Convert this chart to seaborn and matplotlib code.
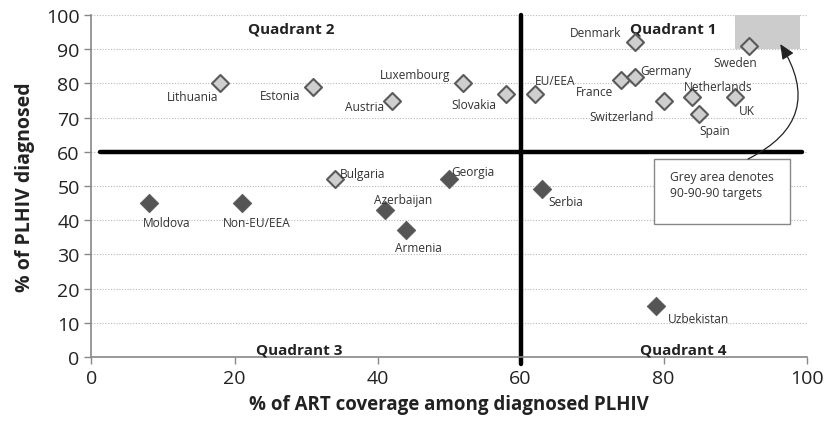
import matplotlib.pyplot as plt
import pandas as pd
import seaborn as sns
from matplotlib.patches import Rectangle, FancyArrowPatch

# Data
eu_names = ["Lithuania", "Estonia", "Austria", "Luxembourg", "Slovakia", "EU/EEA",
            "Denmark", "France", "Germany", "Switzerland", "Netherlands", "Spain",
            "UK", "Sweden", "Bulgaria"]
eu_art = [18, 31, 42, 52, 58, 62, 76, 74, 76, 80, 84, 85, 90, 92, 34]
eu_diag = [80, 79, 75, 80, 77, 77, 92, 81, 82, 75, 76, 71, 76, 91, 52]

non_names = ["Moldova", "Non-EU/EEA", "Azerbaijan", "Armenia", "Georgia", "Serbia",
             "Uzbekistan"]
non_art = [8, 21, 41, 44, 50, 63, 79]
non_diag = [45, 45, 43, 37, 52, 49, 15]

# label placement: (dx, dy) in pixels, horizontal alignment
label_pos = {
    "Lithuania": (-2, -13, "right"), "Estonia": (-13, -9, "right"),
    "Austria": (-8, -6, "right"), "Luxembourg": (-13, 9, "right"),
    "Slovakia": (-10, -11, "right"), "EU/EEA": (0, 13, "left"),
    "Denmark": (-14, 10, "right"), "France": (-8, -12, "right"),
    "Germany": (5, 6, "left"), "Switzerland": (-10, -16, "right"),
    "Netherlands": (-8, 11, "left"), "Spain": (0, -16, "left"),
    "UK": (4, -13, "left"), "Sweden": (-14, -17, "center"),
    "Bulgaria": (5, 6, "left"), "Moldova": (-6, -19, "left"),
    "Non-EU/EEA": (15, -19, "center"), "Azerbaijan": (-11, 10, "left"),
    "Armenia": (12, -17, "center"), "Georgia": (2, 8, "left"),
    "Serbia": (6, -12, "left"), "Uzbekistan": (11, -13, "left"),
}

df = pd.DataFrame({
    "name": eu_names + non_names,
    "art": eu_art + non_art,
    "diag": eu_diag + non_diag,
    "group": ["EU"] * len(eu_names) + ["Non-EU"] * len(non_names),
})

sns.set_style("white")
plt.rcParams["font.family"] = ["Open Sans", "DejaVu Sans"]

fig, ax = plt.subplots(figsize=(8.24, 4.27), dpi=100)
fig.subplots_adjust(left=0.111, right=0.979, top=0.9625, bottom=0.1616)

# 90-90-90 target area
ax.add_patch(Rectangle((90, 90), 9, 10, facecolor="#cccccc", edgecolor="none", zorder=1))

# Dotted horizontal gridlines
for yv in range(10, 101, 10):
    ax.axhline(yv, color="#b8b8b8", linestyle=(0, (1, 1.5)), linewidth=0.8, zorder=0)

# Quadrant dividers
ax.plot([1.2, 99.4], [60, 60], color="black", linewidth=3.2, zorder=2, clip_on=False)
ax.plot([60, 60], [-2, 100], color="black", linewidth=3.2, zorder=2, clip_on=False)

sns.scatterplot(data=df[df.group == "EU"], x="art", y="diag", marker="D", s=75,
                color="#cfcfcf", edgecolor="#5a5a5a", linewidth=1.5, zorder=4, ax=ax)
sns.scatterplot(data=df[df.group == "Non-EU"], x="art", y="diag", marker="D", s=90,
                color="#555555", edgecolor="#555555", linewidth=0.5, zorder=4, ax=ax)

for name, x, y in zip(df.name, df.art, df.diag):
    dx, dy, ha = label_pos[name]
    ax.annotate(name, (x, y), xytext=(dx * 0.72, dy * 0.72), textcoords="offset points",
                ha=ha, va="center", fontsize=8.6, color="#333333", zorder=5)

# Quadrant titles
qkw = dict(fontsize=11, fontweight="bold", color="#222222", ha="center", va="center")
ax.text(28, 96, "Quadrant 2", **qkw)
ax.text(81.4, 96, "Quadrant 1", **qkw)
ax.text(29, 2.2, "Quadrant 3", **qkw)
ax.text(82.8, 2.2, "Quadrant 4", **qkw)

# Note box with curved arrow
ax.add_patch(Rectangle((78.6, 38.9), 19.1, 19.0, facecolor="white", edgecolor="#888888",
                       linewidth=1, zorder=3))
ax.text(80.9, 50.5, "Grey area denotes\n90-90-90 targets", fontsize=8.7, color="#333333",
        ha="left", va="center", linespacing=1.3, zorder=5)
arrow = FancyArrowPatch((91.8, 57.9), (96.3, 91.5), connectionstyle="arc3,rad=0.55",
                        arrowstyle="-|>,head_length=9,head_width=4", color="#222222",
                        linewidth=0.9, zorder=5, shrinkA=0, shrinkB=0)
ax.add_patch(arrow)

ax.set_xlim(0, 100)
ax.set_ylim(0, 100)
ax.set_xticks(range(0, 101, 20))
ax.set_yticks(range(0, 101, 10))
ax.tick_params(axis="both", labelsize=14, colors="#888888", labelcolor="#222222",
               direction="out", length=5, width=1, left=True, bottom=True)
for side in ["top", "right"]:
    ax.spines[side].set_visible(False)
for side in ["left", "bottom"]:
    ax.spines[side].set_color("#888888")
    ax.spines[side].set_linewidth(1.2)

ax.set_xlabel("% of ART coverage among diagnosed PLHIV", fontsize=13.5,
              fontweight="bold", color="#222222", labelpad=5)
ax.set_ylabel("% of PLHIV diagnosed", fontsize=14, fontweight="bold",
              color="#222222", labelpad=8)

fig.savefig("out.png", dpi=100)
